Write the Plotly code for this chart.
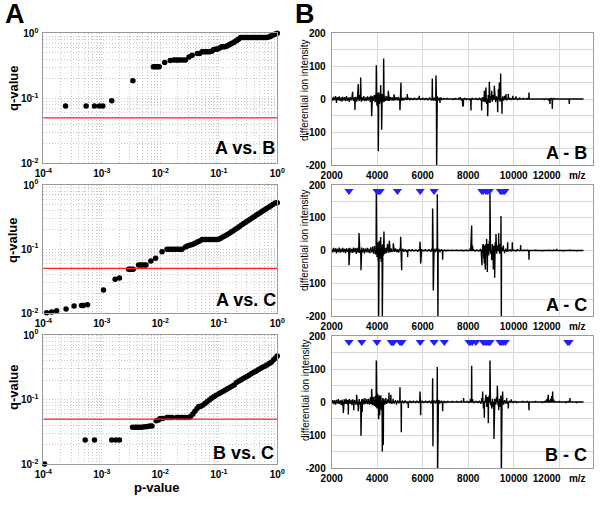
import plotly.graph_objects as go

# ---------------- Panel A data: (p-value, q-value) ----------------
qp_AB = [(2.4e-4, 0.076), (5.4e-4, 0.076), (7.5e-4, 0.076), (9.1e-4, 0.076), (1.04e-3, 0.076),
         (1.48e-3, 0.092), (3.4e-3, 0.187),
         (0.0076, 0.307), (0.0080, 0.307), (0.0085, 0.307), (0.0090, 0.307), (0.0096, 0.307),
         (0.0119, 0.354), (0.0148, 0.38), (0.0170, 0.39), (0.0185, 0.39), (0.0200, 0.39),
         (0.0220, 0.39), (0.0245, 0.39), (0.0270, 0.39), (0.0310, 0.43), (0.0350, 0.46),
         (0.0430, 0.49), (0.0470, 0.49), (0.0520, 0.52), (0.0560, 0.52), (0.0600, 0.52),
         (0.0650, 0.52), (0.0700, 0.52), (0.0760, 0.53), (0.0810, 0.56), (0.0860, 0.57),
         (0.0920, 0.57), (0.0980, 0.58), (0.1050, 0.60), (0.1120, 0.62), (0.1190, 0.62),
         (0.1270, 0.62), (0.1350, 0.63), (0.1440, 0.65), (0.1530, 0.67), (0.1620, 0.69),
         (0.1720, 0.71), (0.1830, 0.73), (0.1950, 0.76), (0.2080, 0.79), (0.2200, 0.82),
         (0.2350, 0.86), (0.2500, 0.86), (0.2670, 0.86), (0.2850, 0.86), (0.3050, 0.86),
         (0.3250, 0.86), (0.3470, 0.86), (0.3700, 0.86), (0.3950, 0.86), (0.4200, 0.86),
         (0.4500, 0.86), (0.4800, 0.86), (0.5100, 0.86), (0.5450, 0.86), (0.5800, 0.86),
         (0.6200, 0.86), (0.6600, 0.86), (0.7000, 0.87), (0.7450, 0.89), (0.7900, 0.91),
         (0.8400, 0.94), (0.8900, 0.96), (0.9450, 0.98), (1.0000, 1.0)]

qp_AC = [(1.14e-4, 0.0102), (1.39e-4, 0.0105), (1.69e-4, 0.011), (2.45e-4, 0.0117),
         (3.36e-4, 0.013), (4.5e-4, 0.0132), (4.8e-4, 0.0132), (5.7e-4, 0.0136),
         (1.07e-3, 0.0231), (1.69e-3, 0.0339), (2.0e-3, 0.0356),
         (2.87e-3, 0.0485), (3.05e-3, 0.0485), (3.25e-3, 0.0485), (3.45e-3, 0.0485),
         (4.25e-3, 0.0567), (4.55e-3, 0.0567), (4.9e-3, 0.0567), (5.3e-3, 0.0567), (5.7e-3, 0.0567),
         (6.9e-3, 0.0654), (8.3e-3, 0.072), (0.0107, 0.0914),
         (0.0130, 0.0994), (0.0142, 0.0994), (0.0155, 0.0994), (0.0170, 0.0994), (0.0186, 0.0994),
         (0.0203, 0.0994), (0.0222, 0.0994), (0.0235, 0.0994),
         (0.0270, 0.108), (0.0290, 0.112), (0.0315, 0.115), (0.0340, 0.117), (0.0370, 0.120),
         (0.0400, 0.125), (0.0440, 0.130), (0.0480, 0.135), (0.0520, 0.142), (0.0560, 0.142),
         (0.0610, 0.142), (0.0660, 0.142), (0.0720, 0.142), (0.0780, 0.142), (0.0850, 0.142),
         (0.0920, 0.142), (0.1000, 0.143), (0.1080, 0.148), (0.1170, 0.154), (0.1270, 0.161),
         (0.1380, 0.168), (0.1500, 0.176), (0.1630, 0.185), (0.1770, 0.194), (0.1920, 0.204),
         (0.2080, 0.214), (0.2260, 0.225), (0.2450, 0.237), (0.2660, 0.250), (0.2890, 0.263),
         (0.3140, 0.277), (0.3400, 0.291), (0.3700, 0.306), (0.4000, 0.320), (0.4350, 0.337),
         (0.4700, 0.353), (0.5100, 0.370), (0.5550, 0.389), (0.6000, 0.408), (0.6500, 0.428),
         (0.7100, 0.450), (0.7700, 0.472), (0.8400, 0.496), (0.9200, 0.522), (1.0000, 0.528)]

qp_BC = [(1.05e-4, 0.0101), (5.2e-4, 0.0238), (7.5e-4, 0.0238), (1.48e-3, 0.0238),
         (1.74e-3, 0.0238), (2.0e-3, 0.0238),
         (3.36e-3, 0.0373), (3.7e-3, 0.0373), (4.0e-3, 0.0373), (4.3e-3, 0.0373), (4.7e-3, 0.0375),
         (5.1e-3, 0.0377), (5.6e-3, 0.0380), (6.1e-3, 0.0385), (6.6e-3, 0.0390), (7.2e-3, 0.0390),
         (8.5e-3, 0.047), (9.3e-3, 0.0486), (0.0100, 0.051), (0.0110, 0.051),
         (0.0130, 0.053), (0.0140, 0.053), (0.0150, 0.053), (0.0160, 0.053), (0.0190, 0.053),
         (0.0205, 0.053), (0.0220, 0.053), (0.0240, 0.053), (0.0260, 0.053), (0.0280, 0.053),
         (0.0310, 0.053), (0.0330, 0.055), (0.0360, 0.060), (0.0390, 0.066), (0.0425, 0.073),
         (0.0455, 0.0785), (0.0485, 0.0785), (0.0530, 0.082), (0.0580, 0.087), (0.0630, 0.093),
         (0.0690, 0.099), (0.0750, 0.105), (0.0820, 0.111), (0.0900, 0.117), (0.1000, 0.123),
         (0.1090, 0.129), (0.1190, 0.135), (0.1300, 0.141), (0.1410, 0.148), (0.1540, 0.154),
         (0.1680, 0.161), (0.1830, 0.168), (0.2000, 0.184), (0.2180, 0.193), (0.2370, 0.201),
         (0.2580, 0.210), (0.2810, 0.220), (0.3060, 0.230), (0.3340, 0.241), (0.3640, 0.253),
         (0.3970, 0.265), (0.4330, 0.276), (0.4720, 0.289), (0.5150, 0.302), (0.5620, 0.316),
         (0.6120, 0.330), (0.6670, 0.345), (0.7270, 0.361), (0.7930, 0.378), (0.8650, 0.413),
         (0.9300, 0.440), (1.0000, 0.473)]

q_threshold = 0.05
comparisons_A = ["A vs. B", "A vs. C", "B vs. C"]

# ---------------- Panel B data: (m/z, differential ion intensity) ----------------
spec_AB = [(2010, 4), (2050, -5), (2090, 7), (2130, -3), (2170, 9), (2210, -12), (2250, 6), (2290, -4),
           (2330, 8), (2370, -6), (2410, 5), (2450, -8), (2490, 7), (2530, -4), (2570, 6), (2610, -7),
           (2650, 9), (2690, -5), (2730, 4), (2770, -9), (2810, 6), (2850, -4), (2890, 8), (2921, 22),
           (2960, -6), (3000, 5), (3024, -33), (3060, 7), (3100, -8), (3140, 10), (3170, 45), (3210, -6),
           (3240, 12), (3273, 65), (3300, -8), (3330, 6), (3370, -5), (3410, 9), (3450, -7), (3490, 5),
           (3530, -6), (3570, 8), (3610, -4), (3650, 7), (3690, -9), (3720, 10), (3756, -52), (3790, 8),
           (3830, -6), (3870, 12), (3910, -10), (3940, 15), (3961, 102), (3985, -20), (4010, 18),
           (4030, -25), (4049, -158), (4070, 20), (4100, -15), (4125, 12), (4152, 42), (4175, -12),
           (4196, -93), (4220, 15), (4250, -10), (4284, 123), (4310, -8), (4340, 10), (4380, -6),
           (4420, 8), (4460, -5), (4489, 25), (4530, -6), (4570, 6), (4610, -4), (4650, 5), (4700, -5),
           (4740, 14), (4780, -4), (4830, 5), (4880, -4), (4930, 6), (4970, -5), (5001, -34), (5030, 30),
           (5045, 50), (5080, -5), (5130, 4), (5180, -4), (5240, 5), (5300, -3), (5324, 15), (5380, 4),
           (5440, -4), (5500, 3), (5570, -3), (5640, 4), (5720, -3), (5790, 3), (5851, 10), (5920, -3),
           (6000, 4), (6080, -3), (6150, 3), (6230, -4), (6300, 5), (6380, -5), (6423, 62), (6460, -5),
           (6500, 4), (6550, -6), (6584, 71), (6613, -215), (6640, 8), (6680, -5), (6720, 4), (6760, -12),
           (6800, 5), (6850, -3), (6920, 3), (7000, -2), (7080, 3), (7160, -2), (7250, 2), (7340, -3),
           (7420, 3), (7500, -2), (7580, 3), (7650, 6), (7700, -5), (7756, -22), (7787, -20), (7850, 3),
           (7930, -3), (8010, 2), (8080, -4), (8123, -35), (8180, 3), (8260, -2), (8340, 3), (8420, -3),
           (8500, 4), (8550, -4), (8592, -35), (8630, 6), (8670, -8), (8710, 25), (8740, -10), (8783, 35),
           (8810, -15), (8856, -52), (8880, 12), (8900, -10), (8929, 52), (8960, -12), (8990, 10),
           (9032, 25), (9060, -8), (9100, 12), (9149, 40), (9180, 35), (9210, -10), (9250, 8), (9296, -40),
           (9330, 30), (9369, 50), (9400, -8), (9427, 77), (9486, -45), (9520, 8), (9560, -5), (9600, 10),
           (9662, 15), (9700, -4), (9764, 15), (9820, 4), (9880, -3), (9955, 10), (10020, 3), (10100, 8),
           (10180, -3), (10260, 5), (10330, -2), (10420, 3), (10500, -2), (10580, 3), (10672, 20),
           (10760, -2), (10850, 2), (10950, -2), (11050, 2), (11150, -2), (11250, 2), (11350, -3),
           (11450, 2), (11530, -5), (11595, -15), (11640, 3), (11698, -30), (11760, 3), (11850, -2),
           (11950, 2), (12050, -2), (12150, 2), (12250, -2), (12350, 2), (12445, -15), (12520, 2),
           (12620, -2), (12720, 2), (12820, -2), (12920, 2), (13060, 0)]

spec_AC = [(2010, 5), (2050, -6), (2090, 8), (2130, -4), (2170, 7), (2210, -9), (2250, 6), (2290, -5),
           (2330, 9), (2370, -7), (2410, 6), (2450, -5), (2490, 8), (2530, -6), (2570, 5), (2610, -8),
           (2650, 7), (2690, -4), (2730, 6), (2760, -45), (2800, 8), (2840, -6), (2880, 5), (2920, -7),
           (2960, 9), (3000, -5), (3040, 7), (3080, -10), (3120, 8), (3160, -6), (3200, 53), (3240, -8),
           (3287, -60), (3320, 9), (3360, -6), (3400, 7), (3440, -9), (3480, 6), (3520, -5), (3560, 8),
           (3600, -7), (3640, 6), (3680, -8), (3720, 10), (3760, -6), (3800, 12), (3840, -10), (3880, 14),
           (3920, -12), (3961, 178), (3990, -20), (4020, 25), (4040, -30), (4064, -215), (4090, 30),
           (4120, -25), (4152, 41), (4180, -35), (4200, 15), (4225, -215), (4250, 20), (4275, -15),
           (4298, 58), (4330, -10), (4370, 8), (4410, -8), (4460, 20), (4500, -6), (4533, 30), (4570, -5),
           (4610, 6), (4650, -5), (4709, 22), (4750, -4), (4800, 6), (4850, -5), (4900, 4), (4950, -6),
           (5000, 8), (5031, 42), (5075, -60), (5120, 5), (5170, -4), (5230, 4), (5290, -5), (5339, -20),
           (5400, 4), (5470, -3), (5540, 4), (5620, -3), (5700, 3), (5780, -4), (5840, 4), (5881, 27),
           (5910, -40), (5960, 4), (6040, -3), (6120, 4), (6200, -3), (6280, 4), (6360, -4), (6400, 6),
           (6437, 128), (6466, -122), (6500, 5), (6550, -5), (6600, 6), (6642, 172), (6671, -215),
           (6710, 5), (6760, -6), (6820, 4), (6877, -28), (6940, 3), (7020, -3), (7100, 3), (7200, -2),
           (7300, 3), (7400, -2), (7500, 3), (7600, -2), (7700, 3), (7800, -3), (7900, 3), (8000, -2),
           (8080, 6), (8120, 20), (8153, 76), (8185, 15), (8230, 4), (8300, -3), (8380, 3), (8460, -3),
           (8540, 5), (8580, -15), (8607, -45), (8640, 15), (8666, 20), (8690, -25), (8710, -40),
           (8730, 15), (8753, -58), (8780, 20), (8812, 35), (8841, -66), (8870, 20), (8900, -15),
           (8930, 30), (8958, 175), (8990, -10), (9032, -30), (9060, 20), (9080, -20), (9105, -58),
           (9130, 15), (9164, -83), (9190, 25), (9222, 50), (9250, -10), (9290, 15), (9340, 53),
           (9380, -10), (9410, 20), (9442, 105), (9457, -215), (9490, 10), (9545, 15), (9600, -8),
           (9650, 6), (9700, -4), (9735, 25), (9790, -3), (9850, 4), (9900, -3), (9940, 25), (10000, 3),
           (10080, -3), (10160, 4), (10240, -2), (10306, 17), (10380, -2), (10460, 3), (10540, -2),
           (10600, 3), (10672, -28), (10760, 2), (10860, -2), (10960, 3), (11060, -2), (11160, 2),
           (11260, -3), (11360, 2), (11460, -2), (11560, 3), (11660, -2), (11760, 3), (11888, 5),
           (11980, -2), (12080, 2), (12180, -3), (12280, 2), (12380, -2), (12480, 3), (12580, -2),
           (12680, 2), (12780, -3), (12880, 2), (12980, -2), (13060, 0)]

spec_BC = [(2010, -4), (2050, 6), (2090, -7), (2130, 5), (2170, -8), (2210, 7), (2250, -5), (2290, 9),
           (2330, -6), (2370, 5), (2410, -9), (2450, 7), (2480, -12), (2511, -33), (2550, 8), (2590, -6),
           (2630, 10), (2670, -7), (2700, 6), (2731, -38), (2770, 9), (2810, -6), (2850, 7), (2890, -10),
           (2930, 8), (2970, -25), (3010, 6), (3050, -8), (3097, 22), (3130, -10), (3170, -28), (3210, 9),
           (3250, -7), (3287, -102), (3320, 8), (3340, -30), (3380, 10), (3420, -8), (3460, 12),
           (3500, -6), (3540, 9), (3580, -7), (3620, 10), (3660, -8), (3700, 14), (3730, -6), (3756, 39),
           (3790, -10), (3830, 15), (3870, -12), (3910, 18), (3940, -15), (3961, 126), (3990, -20),
           (4020, 25), (4040, -18), (4064, -52), (4090, 20), (4110, -40), (4135, 15), (4160, 20),
           (4190, -25), (4225, -150), (4245, 12), (4269, -130), (4300, 10), (4340, -8), (4380, 12),
           (4420, -6), (4460, 8), (4518, 29), (4560, -5), (4600, 22), (4650, -6), (4700, 10), (4750, -5),
           (4800, 6), (4850, -8), (4900, 5), (4950, -4), (5001, 45), (5060, -92), (5110, 5), (5170, -4),
           (5230, 5), (5300, -4), (5368, -18), (5440, 4), (5510, -3), (5590, 4), (5670, -3), (5750, 4),
           (5820, -3), (5881, 32), (5910, -40), (5970, 4), (6050, -3), (6130, 4), (6210, -3), (6290, 4),
           (6370, -5), (6410, 6), (6437, 72), (6452, -134), (6500, 5), (6560, -5), (6600, 6), (6642, 106),
           (6655, -215), (6700, 6), (6750, -5), (6820, 4), (6877, -28), (6940, 3), (7020, -3), (7100, 3),
           (7200, -2), (7300, 3), (7400, -2), (7500, 3), (7600, -2), (7700, 4), (7800, 12), (7880, -2),
           (7960, 3), (8040, -3), (8100, 10), (8153, 110), (8200, 8), (8260, -3), (8340, 3), (8420, -3),
           (8500, 4), (8560, -6), (8600, 12), (8636, 32), (8670, -20), (8710, -48), (8750, 10),
           (8783, 22), (8820, -15), (8850, 15), (8885, -64), (8920, 20), (8958, 126), (8990, -10),
           (9032, -20), (9070, 10), (9100, -15), (9134, -112), (9170, 10), (9210, -8), (9250, 15),
           (9281, 49), (9310, -10), (9340, -25), (9380, 10), (9410, -15), (9442, 20), (9457, -215),
           (9490, 12), (9515, 32), (9560, -8), (9600, 6), (9650, -5), (9690, 12), (9730, -6),
           (9764, -20), (9820, 4), (9900, 8), (9980, -3), (10060, 3), (10140, -3), (10220, 2),
           (10300, -2), (10400, 3), (10500, -2), (10590, 3), (10672, -25), (10760, 2), (10860, -2),
           (10960, 3), (11060, -2), (11160, 2), (11260, -3), (11360, 3), (11440, 8), (11490, 15),
           (11522, 22), (11560, 5), (11620, 10), (11670, 18), (11712, 32), (11750, 8), (11820, 3),
           (11900, -2), (12000, 3), (12100, -2), (12200, 2), (12300, -3), (12400, 3), (12474, 12),
           (12560, -2), (12660, 2), (12760, -3), (12860, 2), (12960, -2), (13060, 0)]

marks_AC = [2760, 3990, 4030, 4080, 4130, 4890, 5890, 6500, 8600, 8660, 8780, 8850, 8930,
            9420, 9480, 9540, 9610]
marks_BC = [2760, 3320, 3990, 4620, 4680, 4720, 5000, 5050, 5090, 5890, 6500, 6950, 8040, 8100,
            8180, 8340, 8660, 8740, 8820, 8900, 8960, 9400, 9460, 9540, 9630, 12380, 12440]
mark_level = 182
comparisons_B = ["A - B", "A - C", "B - C"]

p_ticks = [1e-4, 1e-3, 1e-2, 1e-1, 1]
p_ticktext = ["10<sup>-4</sup>", "10<sup>-3</sup>", "10<sup>-2</sup>", "10<sup>-1</sup>", "10<sup>0</sup>"]
q_ticks = [1e-2, 1e-1, 1]
q_ticktext = ["10<sup>-2</sup>", "10<sup>-1</sup>", "10<sup>0</sup>"]
mz_ticks = [2000, 4000, 6000, 8000, 10000, 12000]
mz_ticktext = ["2000", "4000", "6000", "8000", "10000", "12000&nbsp;&nbsp;&nbsp;m/z"]
int_ticks = [-200, -100, 0, 100, 200]

# ---------------- figure ----------------
W, H = 600, 506
FONT = "Liberation Sans, Arial, sans-serif"
fig = go.Figure()

def px_x(p):
    return p / W

def px_y(p):
    return 1 - p / H

left_x = [43.3, 277.3]
right_x = [331.7, 593.3]
left_y = [(33.3, 163.3), (185.0, 313.3), (335.0, 464.3)]
right_y = [(33.0, 165.0), (185.0, 316.0), (336.0, 468.0)]

GRID = "#c8c8c8"
GRID_R = "#d8d8d8"
FRAME = "#9a9a9a"
DOTS = "1px,2px"
tickfont = dict(family=FONT, size=10, color="black")

layout_axes = {}
qp_sets = [qp_AB, qp_AC, qp_BC]
specs = [spec_AB, spec_AC, spec_BC]
marks = [None, marks_AC, marks_BC]

for i in range(3):
    n = i + 1
    xa = "x" if n == 1 else f"x{n}"
    ya = "y" if n == 1 else f"y{n}"
    pts = qp_sets[i]
    fig.add_trace(go.Scatter(x=[p for p, q in pts], y=[q for p, q in pts], mode="markers",
                             marker=dict(color="black", size=5.5), cliponaxis=False,
                             xaxis=xa, yaxis=ya, showlegend=False))
    fig.add_trace(go.Scatter(x=[p_ticks[0], p_ticks[-1]], y=[q_threshold, q_threshold], mode="lines",
                             line=dict(color="#ff2020", width=1.3), xaxis=xa, yaxis=ya,
                             showlegend=False))
    common_log = dict(tickmode="array", tickfont=tickfont, ticks="", showgrid=True, gridcolor=GRID,
                      griddash=DOTS, gridwidth=1,
                      minor=dict(dtick="D1", showgrid=True, gridcolor=GRID, griddash=DOTS,
                                 gridwidth=1, ticks=""),
                      showline=True, mirror=True, linecolor=FRAME, linewidth=1, zeroline=False,
                      automargin=False)
    layout_axes[f"xaxis{'' if n == 1 else n}"] = dict(
        type="log", range=[-4, 0], domain=[px_x(left_x[0]), px_x(left_x[1])], anchor=ya,
        tickvals=p_ticks, ticktext=["<b>" + t + "</b>" for t in p_ticktext], ticklabelstandoff=1,
        **common_log)
    layout_axes[f"yaxis{'' if n == 1 else n}"] = dict(
        type="log", range=[-2, 0],
        domain=[px_y(left_y[i][1]), px_y(left_y[i][0])], anchor=xa,
        tickvals=q_ticks, ticktext=["<b>" + t + "</b>" for t in q_ticktext], ticklabelstandoff=2,
        **common_log)

    m = i + 4
    xb, yb = f"x{m}", f"y{m}"
    xs, ys = [], []
    for mz, v in specs[i]:
        xs += [mz - 9, mz, mz + 9]
        ys += [0, v, 0]
    fig.add_trace(go.Scatter(x=xs, y=ys, mode="lines", line=dict(color="black", width=1.4),
                             xaxis=xb, yaxis=yb, showlegend=False))
    if marks[i] is not None:
        fig.add_trace(go.Scatter(x=marks[i], y=[mark_level] * len(marks[i]), mode="markers",
                                 marker=dict(symbol="triangle-down", color="#1f1fff", size=8,
                                             line=dict(width=0)),
                                 xaxis=xb, yaxis=yb, showlegend=False, cliponaxis=False))
    layout_axes[f"xaxis{m}"] = dict(
        range=[2000, 13500], domain=[px_x(right_x[0]), px_x(right_x[1])], anchor=yb,
        tickmode="array", tickvals=mz_ticks, ticktext=[f"<b>{t}</b>" for t in mz_ticktext],
        tickfont=tickfont, ticks="", showgrid=True, gridcolor=GRID_R, gridwidth=1,
        showline=True, mirror=True, linecolor=FRAME, linewidth=1, zeroline=False,
        automargin=False, ticklabelstandoff=1)
    layout_axes[f"yaxis{m}"] = dict(
        range=[-200, 200], domain=[px_y(right_y[i][1]), px_y(right_y[i][0])], anchor=xb,
        tickmode="array", tickvals=int_ticks, ticktext=[f"<b>{t}</b>" for t in int_ticks],
        tickfont=tickfont, ticks="", showgrid=True, gridcolor=GRID_R, gridwidth=1,
        minor=dict(tickmode="array", tickvals=[-150, -50, 50, 150], showgrid=True,
                   gridcolor=GRID_R, gridwidth=1, ticks=""),
        showline=True, mirror=True, linecolor=FRAME, linewidth=1, zeroline=False,
        automargin=False, ticklabelstandoff=3)

annotations = []
def ann(text, x, y, size, angle=0, bold=True):
    annotations.append(dict(text=(f"<b>{text}</b>" if bold else text), x=px_x(x), y=px_y(y),
                            xref="paper", yref="paper", showarrow=False, textangle=angle,
                            font=dict(family=FONT, size=size, color="black"),
                            xanchor="center", yanchor="middle"))

ann("A", 15, 14, 27)
ann("B", 305, 14, 27)
label_pos_A = [(245, 148), (246, 300), (243, 453)]
label_pos_B = [(566, 153), (566, 305), (566, 455)]
q_label_y = [88, 240, 387]
d_label_y = [90, 240, 390]
for i in range(3):
    ann(comparisons_A[i], *label_pos_A[i], 18)
    ann(comparisons_B[i], *label_pos_B[i], 18)
    ann("q-value", 13, q_label_y[i], 13, angle=-90)
    ann("differential ion intensity", 305, d_label_y[i], 10, angle=-90, bold=False)
ann("p-value", 157, 487, 13)

fig.update_layout(width=W, height=H, margin=dict(l=0, r=0, t=0, b=0),
                  paper_bgcolor="white", plot_bgcolor="white",
                  annotations=annotations, **layout_axes)
fig.write_html("out.html", config={"displayModeBar": False},
               post_script="document.body.style.margin='0px';")
